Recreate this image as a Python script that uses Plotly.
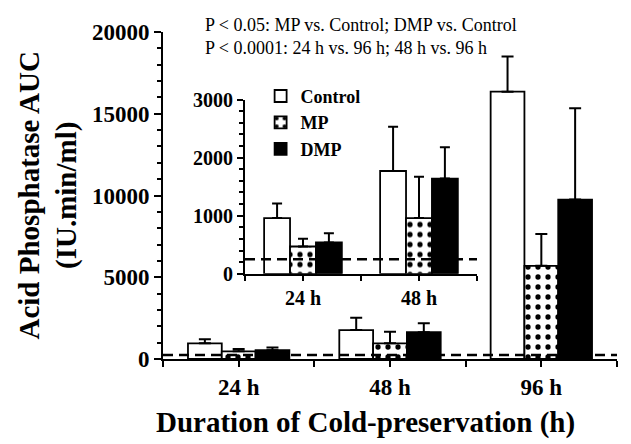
import plotly.graph_objects as go

# ---------------- data ----------------
categories = ["24 h", "48 h", "96 h"]
inset_categories = ["24 h", "48 h"]
series_names = ["Control", "MP", "DMP"]
control = [960, 1770, 16350]
control_err = [250, 760, 2150]
mp = [470, 960, 5700]
mp_err = [135, 710, 1950]
dmp = [540, 1640, 9750]
dmp_err = [160, 540, 5580]
baseline = 250
main_yticks = [0, 5000, 10000, 15000, 20000]
inset_yticks = [0, 1000, 2000, 3000]
note_lines = ["P < 0.05: MP vs. Control; DMP vs. Control",
              "P < 0.0001: 24 h vs. 96 h; 48 h vs. 96 h"]
y_title = "Acid Phosphatase AUC<br>(IU.min/ml)"
x_title = "Duration of Cold-preservation (h)"

SERIF = "Liberation Serif"
BLACK = "#000000"

values = [control, mp, dmp]
errors = [control_err, mp_err, dmp_err]
fills = ["white", "white", BLACK]
patterns = [dict(shape=""),
            dict(shape=".", fgcolor=BLACK, bgcolor="white", size=10, solidity=0.22, fgopacity=1),
            dict(shape="")]

fig = go.Figure()

def positions(n):
    return list(range(n))

# main bars
for name, vals, errs, fill, pat in zip(series_names, values, errors, fills, patterns):
    fig.add_trace(go.Bar(
        x=positions(len(categories)), y=vals, name=name,
        marker=dict(color=fill, line=dict(color=BLACK, width=1.8), pattern=pat),
        error_y=dict(type="data", symmetric=False, array=errs, arrayminus=[0] * len(errs),
                     color=BLACK, thickness=2, width=6),
        xaxis="x", yaxis="y", showlegend=True,
    ))

# inset bars
ni = len(inset_categories)
for name, vals, errs, fill, pat in zip(series_names, values, errors, fills, patterns):
    fig.add_trace(go.Bar(
        x=positions(ni), y=vals[:ni], name=name,
        marker=dict(color=fill, line=dict(color=BLACK, width=1.8), pattern=pat),
        error_y=dict(type="data", symmetric=False, array=errs[:ni], arrayminus=[0] * ni,
                     color=BLACK, thickness=2, width=5),
        xaxis="x2", yaxis="y2", showlegend=False,
    ))

def cat_ticks(cats):
    vals, texts = [], []
    for i in range(2 * len(cats) + 1):
        vals.append(i * 0.5 - 0.5)
        texts.append(cats[i // 2] if i % 2 == 1 else "")
    return vals, texts

mx_vals, mx_text = cat_ticks(categories)
ix_vals, ix_text = cat_ticks(inset_categories)

axis_common = dict(showline=True, linecolor=BLACK, linewidth=2, ticks="outside",
                   tickcolor=BLACK, tickwidth=2, showgrid=False, zeroline=False)

fig.update_layout(
    width=623, height=436, autosize=False,
    margin=dict(l=155, r=14, t=17, b=85),
    paper_bgcolor="white", plot_bgcolor="rgba(0,0,0,0)",
    barmode="group", bargap=0.33, bargroupgap=0,
    font=dict(family=SERIF, color=BLACK),
    xaxis=dict(range=[-0.5, len(categories) - 0.5], tickvals=mx_vals, ticktext=mx_text,
               ticklen=6, tickfont=dict(family=SERIF, size=23, weight=700),
               anchor="y", domain=[0, 1], **axis_common),
    yaxis=dict(range=[0, 20000], tickvals=main_yticks, tickformat="d", ticklen=7,
               tickfont=dict(family=SERIF, size=23, weight=700),
               minor=dict(dtick=1000, ticks="outside", ticklen=4, tickwidth=1.5, tickcolor=BLACK),
               anchor="x", domain=[0, 1], **axis_common),
    xaxis2=dict(range=[-0.5, ni - 0.5], tickvals=ix_vals, ticktext=ix_text,
                ticklen=5, tickfont=dict(family=SERIF, size=20, weight=700),
                anchor="y2", domain=[0.1806, 0.6916], **axis_common),
    yaxis2=dict(range=[0, 3000], tickvals=inset_yticks, tickformat="d", ticklen=6,
                tickfont=dict(family=SERIF, size=20, weight=700),
                minor=dict(dtick=200, ticks="outside", ticklen=4, tickwidth=1.5, tickcolor=BLACK),
                anchor="x2", domain=[0.2605, 0.7934], **axis_common),
    legend=dict(x=0.215, y=0.86, xanchor="left", yanchor="top",
                bgcolor="rgba(0,0,0,0)", font=dict(family=SERIF, size=18, weight=700),
                tracegroupgap=0, itemwidth=30),
)

# dashed baseline in both panels
for xr, yr in (("x domain", "y"), ("x2 domain", "y2")):
    fig.add_shape(type="line", xref=xr, yref=yr, x0=0, x1=1, y0=baseline, y1=baseline,
                  line=dict(color=BLACK, width=2.5, dash="10px,6px"), layer="above")

# notes at top (one block, two lines)
fig.add_annotation(text="<br>".join(note_lines), xref="paper", yref="paper", x=0.088, y=1.058,
                   xanchor="left", yanchor="top", align="left", showarrow=False,
                   font=dict(family=SERIF, size=18, color=BLACK))

# axis titles
fig.add_annotation(text=y_title, xref="paper", yref="paper", x=-0.2533, y=0.5,
                   xanchor="center", yanchor="middle", textangle=-90, showarrow=False,
                   font=dict(family=SERIF, size=29, weight=700, color=BLACK))
fig.add_annotation(text=x_title, xref="paper", yref="paper", x=0.445, y=-0.1946,
                   xanchor="center", yanchor="middle", showarrow=False,
                   font=dict(family=SERIF, size=29, weight=700, color=BLACK))

fig.write_html("out.html")
